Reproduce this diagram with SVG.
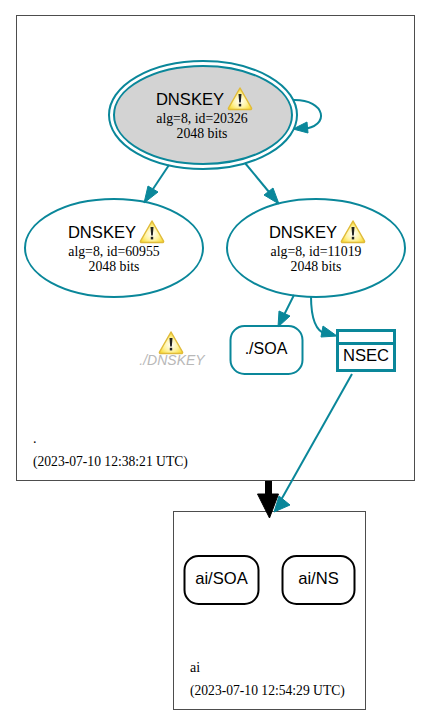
<svg xmlns="http://www.w3.org/2000/svg" width="431" height="726" viewBox="0 0 431 726">
<style>
.sans{font-family:"Liberation Sans",Arial,sans-serif;fill:#000}
.serif{font-family:"Liberation Serif","Times New Roman",serif;fill:#000}
.t{font-size:16.600px;text-anchor:middle}
.b{font-size:16.600px;text-anchor:middle}
.s{font-size:13.800px;text-anchor:middle}
.d{font-size:13.600px}
.node{fill:none;stroke:#0a879a;stroke-width:2}
.conn{fill:none;stroke:#0a879a;stroke-width:2}
.head{fill:#0a879a;stroke:#0a879a}
.zone{fill:#fff;stroke:#4d4d4d;stroke-width:1}
</style>
<defs>
<radialGradient id="wg" cx="0.500" cy="0.600" r="0.550">
<stop offset="0" stop-color="#ffffff"/>
<stop offset="0.550" stop-color="#fff3a0"/>
<stop offset="1" stop-color="#f9dc3a"/>
</radialGradient>
<g id="warn">
<path d="M0 -11L11.500 9Q12 10.500 10 10.500H-10Q-12 10.500 -11.500 9Z" fill="url(#wg)" stroke="#e0bb3a" stroke-width="1.500" stroke-linejoin="round"/>
<path d="M-1.500 -5H1.500L0.800 3.500H-0.800Z" fill="#222"/>
<rect x="-1.200" y="4.800" width="2.400" height="2.600" fill="#222"/>
</g>
</defs>
<rect width="431" height="726" fill="#fff"/>
<g id="zone-root"><rect class="zone" x="16.500" y="15.500" width="398" height="465"/>
<text class="serif" x="33" y="443" font-size="14">.</text>
<text class="serif d" x="33" y="466">(2023-07-10 12:38:21 UTC)</text></g>
<g id="zone-ai"><rect class="zone" x="173.500" y="511.500" width="192" height="198"/>
<text class="serif" x="190" y="672" font-size="14">ai</text>
<text class="serif d" x="190" y="695">(2023-07-10 12:54:29 UTC)</text></g>
<g id="connectors">
<path class="conn" d="M293 100C326 99 331 127 302 129"/>
<polygon class="head" points="293,129 307,122 308,133"/>
<path class="conn" d="M169 165L153 189"/>
<polygon class="head" points="144,203 148,186 158,192"/>
<path class="conn" d="M245 163L269 192"/>
<polygon class="head" points="279,204 264,195 273,188"/>
<path class="conn" d="M294 295L284 315"/>
<polygon class="head" points="278,327 279,311 290,316"/>
<path class="conn" d="M311 296C311 314 314 331 326 334"/>
<polygon class="head" points="337,336 321,337 323,326"/>
<path class="conn" d="M352 374L281 500"/>
<polygon class="head" points="274,512 279,496 290,505"/>
<path d="M268.500 481V496" fill="none" stroke="#000" stroke-width="7"/>
<polygon points="257.500,494 278.500,494 269.500,518" fill="#000" stroke="#000"/>
</g>
<g id="n-20326">
<ellipse cx="203" cy="115" rx="89" ry="49" fill="#d3d3d3" stroke="#0a879a" stroke-width="2"/>
<ellipse class="node" cx="203" cy="115" rx="94" ry="54"/>
<text class="sans t" x="190" y="105">DNSKEY</text>
<use href="#warn" x="240" y="99"/>
<text class="serif s" x="202" y="123">alg=8, id=20326</text>
<text class="serif s" x="202" y="138">2048 bits</text>
</g>
<g id="n-60955">
<ellipse class="node" cx="114" cy="248" rx="89" ry="49"/>
<text class="sans t" x="102" y="238">DNSKEY</text>
<use href="#warn" x="152" y="232"/>
<text class="serif s" x="114" y="256">alg=8, id=60955</text>
<text class="serif s" x="114" y="271">2048 bits</text>
</g>
<g id="n-11019">
<ellipse class="node" cx="316" cy="248" rx="89" ry="49"/>
<text class="sans t" x="303" y="238">DNSKEY</text>
<use href="#warn" x="353" y="232"/>
<text class="serif s" x="316" y="256">alg=8, id=11019</text>
<text class="serif s" x="316" y="271">2048 bits</text>
</g>
<g id="n-dnskey-missing">
<use href="#warn" x="171" y="343"/>
<text x="172" y="365" font-family="'Liberation Sans',Arial,sans-serif" font-size="14" font-style="italic" fill="#b8b8b8" text-anchor="middle">./DNSKEY</text>
</g>
<g id="n-soa">
<rect class="node" x="230.500" y="326" width="72" height="48" rx="14"/>
<text class="sans" x="266" y="354" font-size="16" text-anchor="middle">./SOA</text>
</g>
<g id="n-nsec">
<rect x="337.500" y="330.500" width="57" height="40" fill="#fff" stroke="#0a879a" stroke-width="3"/>
<path d="M337.500 343.500H394.500" stroke="#0a879a" stroke-width="3"/>
<text class="sans b" x="366" y="360.500">NSEC</text>
</g>
<g id="n-ai-soa">
<rect x="184.500" y="556" width="74" height="48" rx="14" fill="none" stroke="#000" stroke-width="2"/>
<text class="sans b" x="221.500" y="584">ai/SOA</text>
</g>
<g id="n-ai-ns">
<rect x="282.500" y="556" width="72" height="48" rx="14" fill="none" stroke="#000" stroke-width="2"/>
<text class="sans b" x="318.500" y="584">ai/NS</text>
</g>
</svg>
